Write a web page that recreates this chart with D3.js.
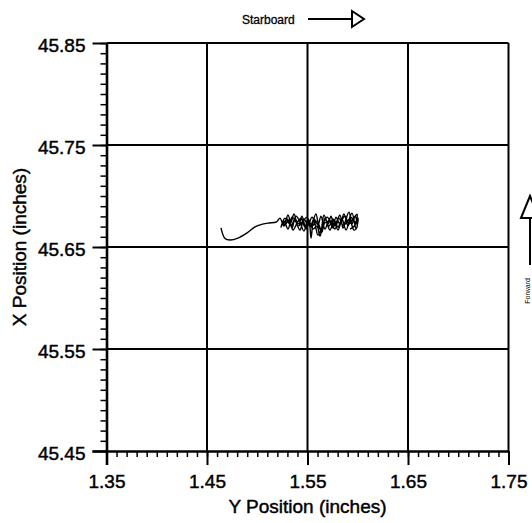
<!DOCTYPE html>
<html><head><meta charset="utf-8">
<script src="https://cdn.jsdelivr.net/npm/d3@7"></script>
<style>
html,body{margin:0;padding:0;background:#fff;}
svg{display:block;font-family:"Liberation Sans",Arial,Helvetica,sans-serif;}
</style></head>
<body>
<svg id="c" width="532" height="523"></svg>
<script>
// Horizontal axis: Y position (inches); vertical axis: X position (inches)
const yTicks = [1.35, 1.45, 1.55, 1.65, 1.75];
const xTicks = [45.45, 45.55, 45.65, 45.75, 45.85];
const yTickLabels = ["1.35", "1.45", "1.55", "1.65", "1.75"];
const xTickLabels = ["45.45", "45.55", "45.65", "45.75", "45.85"];
const xTitle = "Y Position (inches)";
const yTitle = "X Position (inches)";
const topLabel = "Starboard";
const sideLabel = "Forward";

// trace: Y position (horizontal) and X position (vertical), inches
const traceY = [1.4639,1.4679,1.4729,1.4808,1.4895,1.4978,1.5044,1.5107,1.5193,
 1.5226,1.5266,1.5306,1.5346,1.5376,1.5415,1.5445,1.5485,1.5515,1.5535,1.5555,1.5584,1.5614,1.5644,1.5674,1.5704,1.5734,1.5764,1.5793,1.5823,1.5853,1.5883,1.5913,1.5943,1.5973,1.5993,
 1.5963,1.5923,1.5883,1.5843,1.5803,1.5764,1.5724,1.5684,1.5644,1.5604,1.5575,1.5545,1.5505,1.5465,1.5425,1.5386,1.5346,1.5306,1.5266,1.5236,
 1.5276,1.5326,1.5366,1.5405,1.5455,1.5495,1.5525,1.5565,1.5604,1.5634,1.5674,1.5714,1.5754,1.5783,1.5823,1.5863,1.5903,1.5933,1.5973,1.6003,
 1.5983,1.5943,1.5903,1.5853,1.5813,1.5773,1.5734,1.5694,1.5654,1.5624,1.5594,1.5555,1.5515,1.5475,1.5435,1.5396,1.5356,1.5316,1.5276,1.5246,
 1.5256,1.5296,1.5336,1.5386,1.5425,1.5465,1.5505,1.5545,1.5594,1.5634,1.5664,1.5714,1.5754,1.5803,1.5833,1.5873,1.5913,1.5953,1.5993,1.5973,1.5923];
const traceX = [45.6688,45.6584,45.6568,45.6587,45.6636,45.6698,45.6722,45.6734,45.6747,
 45.6783,45.6705,45.6813,45.6685,45.6774,45.6725,45.6803,45.6676,45.6764,45.6587,45.6744,45.6823,45.6695,45.6646,45.6783,45.6725,45.6803,45.6705,45.6754,45.6813,45.6685,45.6774,45.6842,45.6725,45.6803,45.6695,
 45.6666,45.6754,45.6666,45.6774,45.6695,45.6764,45.6666,45.6744,45.6685,45.6617,45.6725,45.6793,45.6715,45.6774,45.6666,45.6744,45.6793,45.6676,45.6754,45.6695,
 45.6783,45.6725,45.6823,45.6705,45.6754,45.6793,45.6695,45.6774,45.6715,45.6803,45.6676,45.6764,45.6685,45.6793,45.6725,45.6823,45.6705,45.6793,45.6744,45.6783,
 45.6676,45.6832,45.6754,45.6715,45.6783,45.6676,45.6744,45.6793,45.6725,45.6607,45.6705,45.6676,45.6744,45.6695,45.6783,45.6734,45.6666,45.6764,45.6715,45.6744,
 45.6725,45.6774,45.6705,45.6803,45.6744,45.6656,45.6774,45.6705,45.6754,45.6676,45.6813,45.6705,45.6774,45.6666,45.6744,45.6803,45.6725,45.6774,45.6823,45.6715,45.6676];

const svg = d3.select("#c");
const L = 106.5, R = 508.5, T = 43, B = 451;
const x = d3.scaleLinear().domain([1.35, 1.75]).range([L, R]);
const y = d3.scaleLinear().domain([45.45, 45.85]).range([B, T]);
const heavy = s => s.attr("stroke", "#000").attr("stroke-width", 0.45);

// gridlines
const g = svg.append("g").attr("stroke", "#000").attr("stroke-width", 2);
g.selectAll(".vg").data(yTicks.slice(1, -1)).enter().append("line")
  .attr("x1", d => x(d)).attr("x2", d => x(d)).attr("y1", T).attr("y2", B);
g.selectAll(".hg").data(xTicks.slice(1, -1)).enter().append("line")
  .attr("y1", d => y(d)).attr("y2", d => y(d)).attr("x1", L).attr("x2", R);

// frame top/right
svg.append("line").attr("x1", L).attr("x2", R).attr("y1", T).attr("y2", T).attr("stroke", "#000").attr("stroke-width", 2.2);
svg.append("line").attr("x1", R).attr("x2", R).attr("y1", T).attr("y2", B).attr("stroke", "#000").attr("stroke-width", 2);

// minor ticks via axes
const xMinor = d3.axisBottom(x).tickValues(d3.range(0, 41).map(i => 1.35 + i * 0.01)).tickSize(6).tickFormat("");
const yMinor = d3.axisLeft(y).tickValues(d3.range(0, 41).map(i => 45.45 + i * 0.01)).tickSize(6).tickFormat("");
svg.append("g").attr("transform", `translate(0,${B})`).call(xMinor)
  .call(s => s.select(".domain").remove())
  .selectAll("line").attr("stroke", "#000").attr("stroke-width", 1.5);
svg.append("g").attr("transform", `translate(${L},0)`).call(yMinor)
  .call(s => s.select(".domain").remove())
  .selectAll("line").attr("stroke", "#000").attr("stroke-width", 1.5);

// major axes
const xAxis = d3.axisBottom(x).tickValues(yTicks).tickSize(14).tickPadding(10)
  .tickFormat((d, i) => yTickLabels[i]);
const yAxis = d3.axisLeft(y).tickValues(xTicks).tickSize(14).tickPadding(7)
  .tickFormat((d, i) => xTickLabels[i]);
const gx = svg.append("g").attr("transform", `translate(0,${B})`).call(xAxis);
gx.select(".domain").attr("d", `M${L - 14},0.5H${R}`).attr("stroke", "#000").attr("stroke-width", 2.6);
gx.selectAll(".tick line").attr("stroke", "#000").attr("stroke-width", 2);
gx.selectAll(".tick text").attr("font-size", 19).attr("fill", "#000")
  .attr("font-family", "Liberation Sans, Arial, sans-serif").call(heavy);
const gy = svg.append("g").attr("transform", `translate(${L},0)`).call(yAxis);
gy.select(".domain").attr("d", `M0.5,${T}V${B + 14}`).attr("stroke", "#000").attr("stroke-width", 2.6);
gy.selectAll(".tick line").attr("stroke", "#000").attr("stroke-width", 2);
gy.selectAll(".tick text").attr("font-size", 19).attr("fill", "#000")
  .attr("font-family", "Liberation Sans, Arial, sans-serif").attr("dy", "0.45em").call(heavy);

// titles
svg.append("text").attr("x", (L + R) / 2).attr("y", 513).attr("text-anchor", "middle")
  .attr("font-size", 19).text(xTitle).call(heavy);
svg.append("text").attr("transform", `translate(26,${(T + B) / 2}) rotate(-90)`)
  .attr("text-anchor", "middle").attr("font-size", 19).text(yTitle).call(heavy);

// trace
const pts = traceY.map((v, i) => [v, traceX[i]]);
svg.append("path").datum(pts)
  .attr("d", d3.line().x(d => x(d[0])).y(d => y(d[1])).curve(d3.curveCatmullRom.alpha(0.5)))
  .attr("fill", "none").attr("stroke", "#000").attr("stroke-width", 1.4);

// Starboard arrow
svg.append("text").attr("x", 242).attr("y", 24).attr("font-size", 12).text(topLabel).call(s => s.attr("stroke", "#000").attr("stroke-width", 0.3));
svg.append("line").attr("x1", 308).attr("x2", 352).attr("y1", 19).attr("y2", 19).attr("stroke", "#000").attr("stroke-width", 2);
svg.append("path").attr("d", "M352,11L364,19L352,27Z").attr("fill", "#fff").attr("stroke", "#000").attr("stroke-width", 2);

// Forward arrow (cut by the right edge, as in the source)
svg.append("path").attr("d", "M521,218L530,196L539,218Z").attr("fill", "#fff").attr("stroke", "#000").attr("stroke-width", 2);
svg.append("line").attr("x1", 530).attr("x2", 530).attr("y1", 218).attr("y2", 265).attr("stroke", "#000").attr("stroke-width", 2);
svg.append("text").attr("transform", "translate(530,278) rotate(-90)").attr("text-anchor", "end")
  .attr("font-size", 7).text(sideLabel);
</script>
</body></html>
